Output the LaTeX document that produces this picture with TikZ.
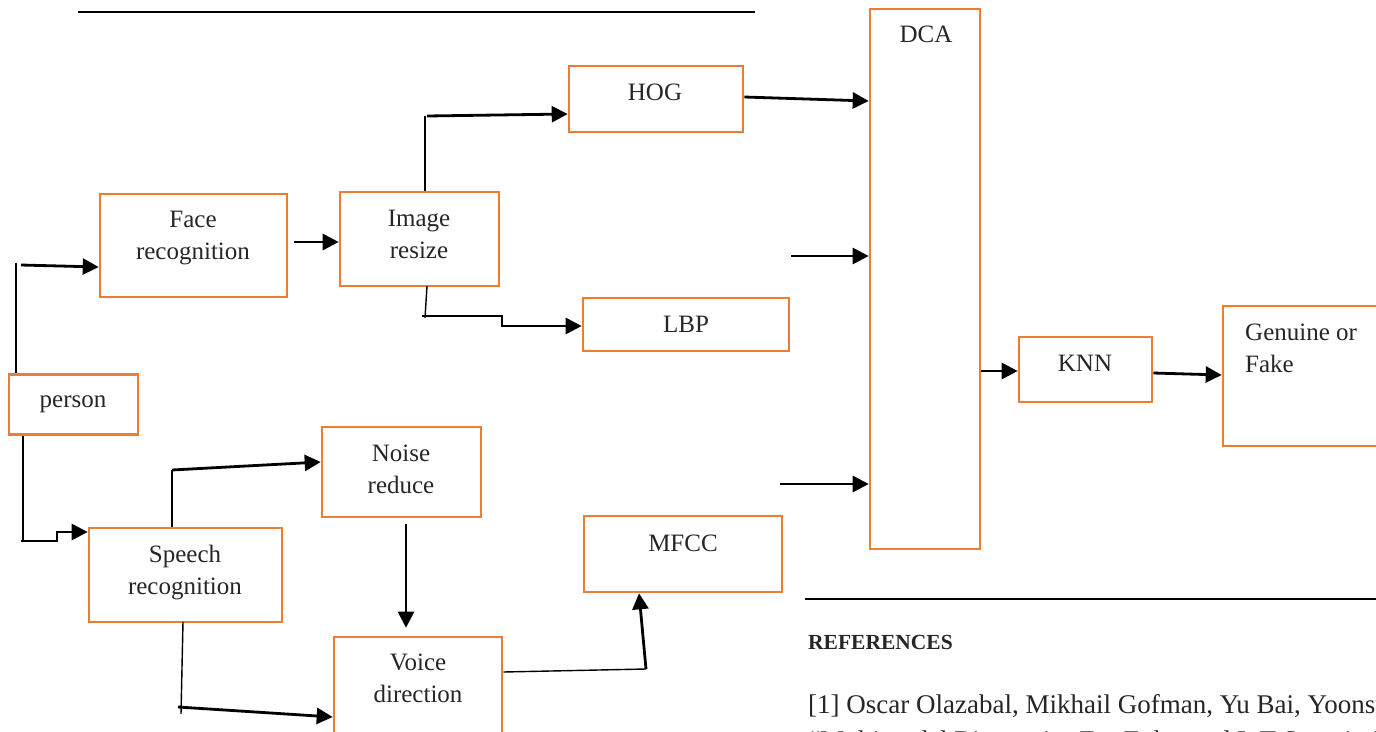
\documentclass[tikz,border=0pt]{standalone}
\usepackage{fontspec}
\setmainfont{Liberation Serif}
\usetikzlibrary{arrows.meta,calc}
\definecolor{boxorange}{HTML}{ED7D31}
\definecolor{txtgray}{HTML}{262626}
\tikzset{
  blockbox/.style={draw=boxorange, line width=2.6pt, inner sep=0pt, fill=none},
  lbl/.style={text=txtgray, inner sep=0pt, align=center, font=\fontsize{25}{32}\selectfont},
  arr/.style={line width=2.8pt, -{Triangle[length=16pt,width=16pt]}},
  thinln/.style={line width=1.4pt},
  rule/.style={line width=2.2pt}
}
\begin{document}
\begin{tikzpicture}[x=1pt,y=-1pt]
\useasboundingbox (0,0) rectangle (1376,731);

% boxes
\node[blockbox, minimum width=129pt, minimum height=60pt] (person) at (73.5,404.5) {};
\node[blockbox, minimum width=187pt, minimum height=103pt] (face) at (193.5,245.5) {};
\node[blockbox, minimum width=159pt, minimum height=94pt] (img) at (419.5,239) {};
\node[blockbox, minimum width=174pt, minimum height=66pt] (hog) at (656,99) {};
\node[blockbox, minimum width=206pt, minimum height=53pt] (lbp) at (686,324.5) {};
\node[blockbox, minimum width=193pt, minimum height=94pt] (speech) at (185.5,575) {};
\node[blockbox, minimum width=159pt, minimum height=90pt] (noise) at (401.5,472) {};
\node[blockbox, minimum width=168pt, minimum height=143pt] (voice) at (418,708.5) {};
\node[blockbox, minimum width=198pt, minimum height=76pt] (mfcc) at (683,554) {};
\node[blockbox, minimum width=110pt, minimum height=540pt] (dca) at (925,279) {};
\node[blockbox, minimum width=133pt, minimum height=65pt] (knn) at (1085.5,369.5) {};
\node[blockbox, minimum width=177pt, minimum height=140pt] (gen) at (1311.5,376) {};

% labels
\node[lbl] (personT) at (73,404) {person};
\node[lbl] (faceT) at (193,238) {Face\\recognition};
\node[lbl] (imgT) at (419,234) {Image\\resize};
\node[lbl] (hogT) at (655,92) {HOG};
\node[lbl] (lbpT) at (686,324) {LBP};
\node[lbl] (speechT) at (185,573) {Speech\\recognition};
\node[lbl] (noiseT) at (401,469) {Noise\\reduce};
\node[lbl] (voiceT) at (418,678) {Voice\\direction};
\node[lbl] (mfccT) at (683,543) {MFCC};
\node[lbl] (dcaT) at (926,34) {DCA};
\node[lbl] (knnT) at (1085,363) {KNN};
\node[lbl, align=left, anchor=west] (genT) at (1245,348) {Genuine or\\Fake};

% person -> face
\coordinate (pfTop) at (16,263);
\coordinate (pfStart) at (21,265);
\draw[thinln] (pfTop |- person.north) -- (pfTop);
\draw[arr] (pfStart) -- ($(face.west)+(0,21.5)$);

% person -> speech
\coordinate (psBot) at (23,541);
\coordinate (psStep) at (57,541);
\draw[thinln] (psBot |- person.south) -- (psBot);
\draw[arr] (21,541) -- (psStep) -- (57,532) -- ($(speech.west)+(0,-43)$);

% face -> image resize
\draw[arr] ($(face.east)+(6,-3.5)$) -- ($(img.west)+(0,3)$);

% image resize -> HOG
\coordinate (ihTop) at (425,116);
\draw[thinln] (ihTop |- img.north) -- (ihTop);
\draw[arr] (427,116) -- ($(hog.west)+(0,15)$);

% image resize -> LBP
\coordinate (ilBot) at (425,318);
\draw[thinln] (427,286) -- (ilBot);
\draw[arr] (422,316) -- (502,316) -- (502,326) -- ($(lbp.west)+(0,1.5)$);

% HOG -> DCA
\draw[arr] ($(hog.east)+(0,-2)$) -- ($(dca.west)+(0,-178)$);

% free arrows into DCA
\coordinate (inA) at (791,256);
\coordinate (inB) at (780,484);
\draw[arr] (inA) -- ($(dca.west)+(0,-23)$);
\draw[arr] (inB) -- ($(dca.west)+(0,205)$);

% DCA -> KNN -> Genuine
\draw[arr] ($(dca.east)+(0,92)$) -- ($(knn.west)+(0,1.5)$);
\draw[arr] ($(knn.east)+(0,3.5)$) -- ($(gen.west)+(0,-1)$);

% speech -> noise
\coordinate (snTop) at (172,470);
\draw[thinln] (snTop |- speech.north) -- (snTop);
\draw[arr] (snTop) -- ($(noise.west)+(0,-10)$);

% speech -> voice
\coordinate (svBot) at (181,714);
\draw[thinln] (183,622) -- (svBot);
\draw[arr] (178,707) -- ($(voice.west)+(0,8.5)$);

% noise -> voice
\draw[arr] ($(noise.south)+(4.5,6)$) -- ($(voice.north)+(-12,-8)$);

% voice -> MFCC
\coordinate (vmCorner) at (646,669);
\draw[thinln] ($(voice.east)+(0,-36.5)$) -- (vmCorner);
\draw[arr] (vmCorner) -- ($(mfcc.south)+(-44,0)$);

% page rules
\draw[rule] (78,12) -- (755,12);
\draw[rule] (805,599) -- (1376,599);

% references
\node[text=txtgray, inner sep=0pt, anchor=base west, font=\fontsize{21.5}{26}\selectfont\bfseries] (refH) at (808,649) {REFERENCES};
\node[text=txtgray, inner sep=0pt, anchor=base west, font=\fontsize{27}{36}\selectfont] (ref1) at (808,713) {[1] Oscar Olazabal, Mikhail Gofman, Yu Bai, Yoonsuk Choi,};
\node[text=txtgray, inner sep=0pt, anchor=base west, font=\fontsize{27}{36}\selectfont] (ref2) at (808,749) {“Multimodal Biometrics For Enhanced IoT Security”};
\end{tikzpicture}
\end{document}
